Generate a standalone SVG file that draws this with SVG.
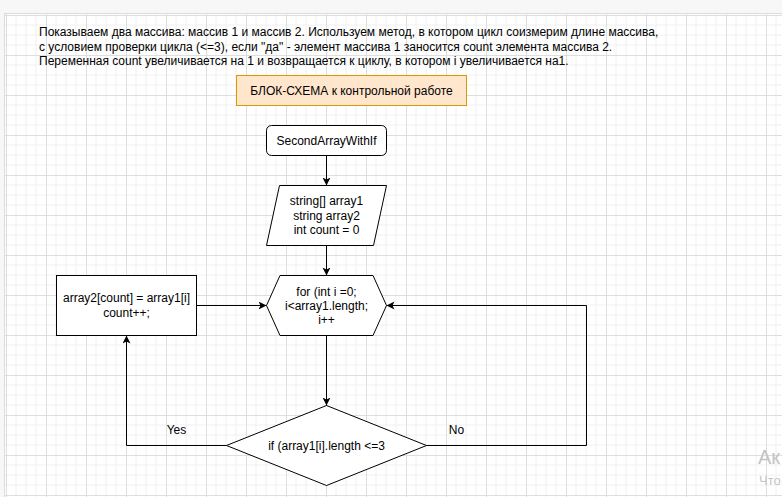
<svg xmlns="http://www.w3.org/2000/svg" width="782" height="497" viewBox="0 0 782 497">
  <style>
    text { font-family: "Liberation Sans", Arial, sans-serif; font-size: 12px; fill: #000; }
    .c { text-anchor: middle; }
    .shape { fill: #fff; stroke: #000; stroke-width: 1; }
    .edge { fill: none; stroke: #000; stroke-width: 1; }
    .wm { fill: #c4c4c4; }
  </style>
  <defs>
    <pattern id="grid" patternUnits="userSpaceOnUse" x="6" y="15" width="40" height="40">
      <path d="M10,0V40M20,0V40M30,0V40M0,10H40M0,20H40M0,30H40" stroke="#f0f0f0" stroke-width="1" fill="none"/>
      <path d="M0.5,0V40M0,0.5H40" stroke="#dedede" stroke-width="1" fill="none"/>
    </pattern>
    <marker id="arr" markerUnits="userSpaceOnUse" markerWidth="10" markerHeight="10" refX="8" refY="4" orient="auto">
      <path d="M0,0 L8,4 L0,8 L2,4 Z" fill="#000"/>
    </marker>
  </defs>

  <rect x="0" y="0" width="782" height="497" fill="#f7f7f7"/>
  <rect x="5" y="14" width="777" height="483" fill="#fff"/>
  <rect x="5" y="14" width="777" height="483" fill="url(#grid)"/>
  <path d="M4.5,497V13.5H782" stroke="#dcdcdc" fill="none"/>

  <g id="description">
    <text x="39" y="36">Показываем два массива: массив 1 и массив 2. Используем метод, в котором цикл соизмерим длине массива,</text>
    <text x="39" y="50.5">с условием проверки цикла (&lt;=3), если "да" - элемент массива 1 заносится count элемента массива 2.</text>
    <text x="39" y="65">Переменная count увеличивается на 1 и возвращается к циклу, в котором i увеличивается на1.</text>
  </g>

  <g id="title">
    <rect x="236.5" y="75.5" width="230" height="30" fill="#ffe6cc" stroke="#d79b00"/>
    <text class="c" x="351.5" y="94.5">БЛОК-СХЕМА к контрольной работе</text>
  </g>

  <g id="start">
    <rect class="shape" x="266.5" y="125.5" width="120" height="30" rx="5"/>
    <text class="c" x="326.5" y="144.5">SecondArrayWithIf</text>
  </g>

  <g id="input">
    <polygon class="shape" points="279.5,185.5 386.5,185.5 373.5,245.5 266.5,245.5"/>
    <text class="c" x="326.5" y="205">string[] array1</text>
    <text class="c" x="326.5" y="219.5">string array2</text>
    <text class="c" x="326.5" y="234">int count = 0</text>
  </g>

  <g id="loop">
    <polygon class="shape" points="266.5,305.5 280,275.5 373,275.5 386.5,305.5 373,335.5 280,335.5"/>
    <text class="c" x="326.5" y="295.5">for (int i =0;</text>
    <text class="c" x="326.5" y="309.5">i&lt;array1.length;</text>
    <text class="c" x="326.5" y="324">i++</text>
  </g>

  <g id="assign">
    <rect class="shape" x="56.5" y="275.5" width="140" height="60"/>
    <text class="c" x="126.5" y="302">array2[count] = array1[i]</text>
    <text class="c" x="126.5" y="316.5">count++;</text>
  </g>

  <g id="condition">
    <polygon class="shape" points="326.5,405.5 426.5,445.5 326.5,485.5 226.5,445.5"/>
    <text class="c" x="326.5" y="449.5">if (array1[i].length &lt;=3</text>
  </g>

  <g id="connectors">
    <path class="edge" d="M326.5,155.5V185.5" marker-end="url(#arr)"/>
    <path class="edge" d="M326.5,245.5V275.5" marker-end="url(#arr)"/>
    <path class="edge" d="M196.5,305.5H266.5" marker-end="url(#arr)"/>
    <path class="edge" d="M326.5,335.5V405.5" marker-end="url(#arr)"/>
    <path class="edge" d="M226.5,445.5H126.5V335.5" marker-end="url(#arr)"/>
    <path class="edge" d="M426.5,445.5H586.5V305.5H386.5" marker-end="url(#arr)"/>
    <text class="c" x="176.5" y="433.5">Yes</text>
    <text class="c" x="456.5" y="433.5">No</text>
  </g>

  <g id="watermark">
    <text class="wm" x="758" y="464" style="font-size:20px">Ак</text>
    <text class="wm" x="759" y="485" style="font-size:13px">Что</text>
  </g>
</svg>
